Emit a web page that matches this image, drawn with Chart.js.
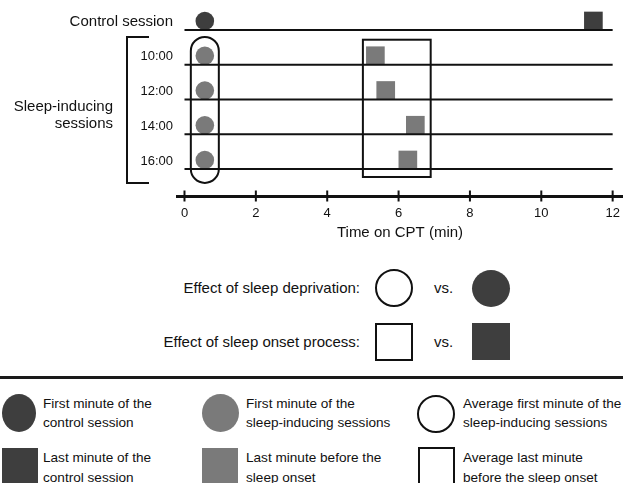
<!DOCTYPE html>
<html>
<head>
<meta charset="utf-8">
<script src="https://cdn.jsdelivr.net/npm/chart.js@4/dist/chart.umd.min.js"></script>
<style>
  body { margin: 0; width: 623px; height: 483px; position: relative; overflow: hidden; background: #fff;
         font-family: "Liberation Sans", Arial, sans-serif; color: #111; }
  #wrap { position: absolute; left: 0; top: 0; width: 623px; height: 245px; }
  .t { position: absolute; white-space: nowrap; }
  .lg { font-size: 13.6px; }
  .s { position: absolute; box-sizing: border-box; }
  .dark { background: #3e3e3e; }
  .gray { background: #7a7a7a; }
  .open { border: 2.5px solid #111; background: #fff; }
  .round { border-radius: 50%; }
</style>
</head>
<body>
<div id="wrap"><canvas id="chart"></canvas></div>

<div class="t" style="right:510px; top:97px; font-size:15px; line-height:17px; text-align:right;">Sleep-inducing<br>sessions</div>

<div class="t" style="right:263px; top:280px; font-size:15px; line-height:15px;">Effect of sleep deprivation:</div>
<div class="s open round" style="left:375px; top:269px; width:38px; height:38px;"></div>
<div class="t" style="left:434px; top:280px; font-size:15px; line-height:15px;">vs.</div>
<div class="s dark round" style="left:472px; top:270px; width:38px; height:37px;"></div>

<div class="t" style="right:263px; top:334px; font-size:15px; line-height:15px;">Effect of sleep onset process:</div>
<div class="s open" style="left:375px; top:323px; width:38px; height:38px;"></div>
<div class="t" style="left:434px; top:334px; font-size:15px; line-height:15px;">vs.</div>
<div class="s dark" style="left:472px; top:323px; width:38px; height:37px;"></div>

<div class="s" style="left:0; top:376px; width:623px; height:3px; background:#1a1a1a;"></div>

<div class="s dark round" style="left:2px; top:394px; width:34px; height:38px;"></div>
<div class="t lg" style="left:43px; top:394px; line-height:19px;">First minute of the<br>control session</div>
<div class="s gray round" style="left:202px; top:394px; width:37px; height:38px;"></div>
<div class="t lg" style="left:246px; top:394px; line-height:19px;">First minute of the<br>sleep-inducing sessions</div>
<div class="s open round" style="left:417px; top:395px; width:38px; height:38px;"></div>
<div class="t lg" style="left:463px; top:394px; line-height:19px;">Average first minute of the<br>sleep-inducing sessions</div>

<div class="s dark" style="left:2px; top:448px; width:36px; height:40px;"></div>
<div class="t lg" style="left:43px; top:448px; line-height:20px;">Last minute of the<br>control session</div>
<div class="s gray" style="left:202px; top:448px; width:36px; height:40px;"></div>
<div class="t lg" style="left:246px; top:448px; line-height:20px;">Last minute before the<br>sleep onset</div>
<div class="s open" style="left:418px; top:447px; width:37px; height:40px;"></div>
<div class="t lg" style="left:463px; top:448px; line-height:20px;">Average last minute<br>before the sleep onset</div>

<script>
// sessions, top to bottom
const sessionNames = ['Control session', '10:00', '12:00', '14:00', '16:00'];
const sessionY = [4, 3, 2, 1, 0];
// minutes on the CPT
const firstMinute = [0.57, 0.57, 0.57, 0.57, 0.57];
const lastMinute = [11.46, 5.35, 5.64, 6.47, 6.26];
const xTicks = [0, 2, 4, 6, 8, 10, 12];
const timeStart = 0;
const timeEnd = 12;

const DARK = '#3e3e3e';
const GRAY = '#7a7a7a';
const markerColors = sessionY.map((v, i) => i === 0 ? DARK : GRAY);

Chart.defaults.font.family = '"Liberation Sans", Arial, sans-serif';
Chart.defaults.color = '#111';

// boxes and bracket drawn on top, placed with the scales
const diagram = {
  id: 'diagram',
  beforeDatasetDraw(chart, args) {
    const lift = chart.data.datasets[args.index].lift;
    if (lift) {
      chart.ctx.save();
      chart.ctx.translate(0, -lift);
    }
  },
  afterDatasetDraw(chart, args) {
    if (chart.data.datasets[args.index].lift) chart.ctx.restore();
  },
  afterDraw(chart) {
    const { ctx, scales: { x, y }, chartArea } = chart;
    ctx.save();
    ctx.strokeStyle = '#111';

    // tick marks crossing the axis
    ctx.lineWidth = 2;
    xTicks.forEach((v) => {
      const px = x.getPixelForValue(v);
      ctx.beginPath();
      ctx.moveTo(px, chartArea.bottom - 5.5);
      ctx.lineTo(px, chartArea.bottom + 5.5);
      ctx.stroke();
    });

    // capsule around the first minutes
    const avgFirst = firstMinute.slice(1).reduce((a, b) => a + b, 0) / (firstMinute.length - 1);
    const cx = x.getPixelForValue(avgFirst);
    const top = y.getPixelForValue(3.8);
    const bottom = y.getPixelForValue(-0.4);
    ctx.lineWidth = 2;
    ctx.beginPath();
    ctx.roundRect(cx - 14, top, 28, bottom - top, 14);
    ctx.stroke();

    // box around the last minutes
    const bx1 = x.getPixelForValue(5.0);
    const bx2 = x.getPixelForValue(6.9);
    const by1 = y.getPixelForValue(3.72);
    const by2 = y.getPixelForValue(-0.23);
    ctx.strokeRect(bx1, by1, bx2 - bx1, by2 - by1);

    // bracket for the sleep-inducing sessions
    ctx.beginPath();
    ctx.moveTo(149, top);
    ctx.lineTo(127, top);
    ctx.lineTo(127, bottom);
    ctx.lineTo(149, bottom);
    ctx.stroke();
    ctx.restore();
  }
};

const sessionLines = sessionY.map((v) => ({
  type: 'line',
  data: [{ x: timeStart, y: v }, { x: timeEnd, y: v }],
  borderColor: '#111',
  borderWidth: 2,
  pointRadius: 0,
  clip: false
}));

new Chart(document.getElementById('chart'), {
  type: 'scatter',
  data: {
    datasets: [
      ...sessionLines,
      {
        data: sessionY.map((v, i) => ({ x: firstMinute[i], y: v })),
        pointStyle: 'circle',
        pointRadius: 9.3,
        pointBackgroundColor: markerColors,
        pointBorderWidth: 0,
        lift: 9,
        clip: false
      },
      {
        data: sessionY.map((v, i) => ({ x: lastMinute[i], y: v })),
        pointStyle: 'rect',
        pointRadius: 13.2,
        pointBackgroundColor: markerColors,
        pointBorderWidth: 0,
        lift: 9,
        clip: false
      }
    ]
  },
  options: {
    responsive: true,
    maintainAspectRatio: false,
    animation: false,
    events: [],
    layout: { autoPadding: false, padding: { top: 14, right: 0, left: 0, bottom: 0 } },
    scales: {
      x: {
        type: 'linear',
        min: -0.21,
        max: 12.29,
        afterBuildTicks: (scale) => { scale.ticks = xTicks.map((v) => ({ value: v })); },
        afterFit: (scale) => { scale.height = 49; scale.paddingLeft = 0; scale.paddingRight = 0; },
        grid: { display: false, drawTicks: false },
        border: { display: true, color: '#111', width: 3 },
        ticks: { padding: 10, font: { size: 13 }, color: '#111' },
        title: { display: true, text: 'Time on CPT (min)', font: { size: 15 }, color: '#111', padding: { top: 4, bottom: 3 } }
      },
      y: {
        type: 'linear',
        min: -0.777,
        max: 4.46,
        afterBuildTicks: (scale) => { scale.ticks = sessionY.map((v) => ({ value: v })); },
        afterFit: (scale) => { scale.width = 177; scale.paddingTop = 0; scale.paddingBottom = 0; },
        grid: { display: false, drawTicks: false },
        border: { display: false },
        ticks: {
          padding: 4,
          labelOffset: -8,
          color: '#111',
          font: (c) => ({ size: c.tick && c.tick.value === sessionY[0] ? 15 : 13 }),
          callback: (value) => sessionNames[sessionY.indexOf(value)]
        }
      }
    },
    plugins: {
      legend: { display: false },
      tooltip: { enabled: false }
    }
  },
  plugins: [diagram]
});
</script>
</body>
</html>
